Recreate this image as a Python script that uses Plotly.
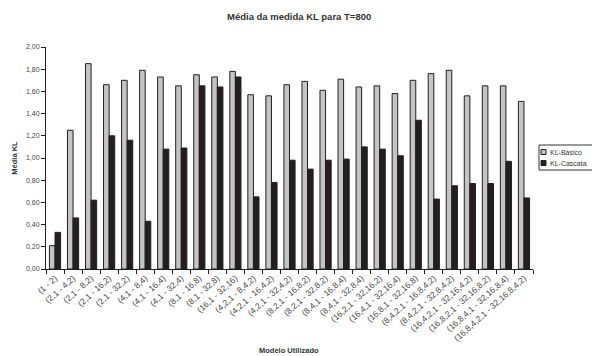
import plotly.graph_objects as go

categories = ["(1 - 2)", "(2,1 - 4,2)", "(2,1 - 8,2)", "(2,1 - 16,2)", "(2,1 - 32,2)",
              "(4,1 - 8,4)", "(4,1 - 16,4)", "(4,1 - 32,4)", "(8,1 - 16,8)", "(8,1 - 32,8)",
              "(16,1 - 32,16)", "(4,2,1 - 8,4,2)", "(4,2,1 - 16,4,2)", "(4,2,1 - 32,4,2)",
              "(8,2,1 - 16,8,2)", "(8,2,1 - 32,8,2)", "(8,4,1 - 16,8,4)", "(8,4,1 - 32,8,4)",
              "(16,2,1 - 32,16,2)", "(16,4,1 - 32,16,4)", "(16,8,1 - 32,16,8)",
              "(8,4,2,1 - 16,8,4,2)", "(8,4,2,1 - 32,8,4,2)", "(16,4,2,1 - 32,16,4,2)",
              "(16,8,2,1 - 32,16,8,2)", "(16,8,4,1 - 32,16,8,4)", "(16,8,4,2,1 - 32,16,8,4,2)"]
kl_basico = [0.21, 1.25, 1.85, 1.66, 1.70, 1.79, 1.73, 1.65, 1.75, 1.73, 1.78, 1.57, 1.56, 1.66,
             1.69, 1.61, 1.71, 1.64, 1.65, 1.58, 1.70, 1.76, 1.79, 1.56, 1.65, 1.65, 1.51]
kl_cascata = [0.33, 0.46, 0.62, 1.20, 1.16, 0.43, 1.08, 1.09, 1.65, 1.64, 1.73, 0.65, 0.78, 0.98,
              0.90, 0.98, 0.99, 1.10, 1.08, 1.02, 1.34, 0.63, 0.75, 0.77, 0.77, 0.97, 0.64]
series_names = ["KL-Básico", "KL-Cascata"]
y_ticks = [0, 0.2, 0.4, 0.6, 0.8, 1.0, 1.2, 1.4, 1.6, 1.8, 2.0]

GRAY = "#c4c4c4"
DARK = "#231f20"
colors = [GRAY, DARK]

W, H = 592, 356
L, R, T, B = 46, 59, 47, 87
PW, PH = W - L - R, H - T - B


def px(x):
    return (x - L) / PW


def py(y):
    return (H - B - y) / PH


fig = go.Figure()
for name, vals, col in zip(series_names, [kl_basico, kl_cascata], colors):
    fig.add_trace(go.Bar(x=categories, y=vals, name=name,
                         marker=dict(color=col, line=dict(color=DARK, width=1))))

font = "Liberation Sans, Arial, sans-serif"

shapes = [dict(type="rect", xref="paper", yref="paper",
               x0=px(539), x1=px(596), y0=py(145), y1=py(170),
               line=dict(color="#333333", width=1), fillcolor="white")]
annotations = [
    dict(text="<b>Média da medida KL para T=800</b>", xref="paper", yref="paper",
         x=px(299), y=py(16), xanchor="center", yanchor="middle", showarrow=False,
         font=dict(size=9.5, color="#333333")),
    dict(text="<b>Modelo Utilizado</b>", xref="paper", yref="paper",
         x=px(289), y=py(350), xanchor="center", yanchor="middle", showarrow=False,
         font=dict(size=7.5, color="#333333")),
]
for i, (name, col) in enumerate(zip(series_names, colors)):
    cy = 152 + i * 11
    shapes.append(dict(type="rect", xref="paper", yref="paper",
                       x0=px(541), x1=px(546), y0=py(cy - 2.5), y1=py(cy + 2.5),
                       line=dict(color=DARK, width=1), fillcolor=col))
    annotations.append(dict(text=name, xref="paper", yref="paper", x=px(548), y=py(cy),
                            xanchor="left", yanchor="middle", showarrow=False,
                            font=dict(size=7, color="#333333")))

fig.update_layout(
    width=W, height=H,
    margin=dict(l=L, r=R, t=T, b=B),
    paper_bgcolor="white", plot_bgcolor="white",
    separators=",.",
    barmode="group", bargap=0.38, bargroupgap=0.0,
    font=dict(family=font, size=7, color="#333333"),
    showlegend=False,
    shapes=shapes,
    annotations=annotations,
    xaxis=dict(showline=True, linecolor=DARK, linewidth=1, ticks="outside",
               tickson="boundaries", ticklen=4, tickcolor=DARK, tickangle=-42,
               tickfont=dict(size=8.5, color="#444444"), showgrid=False, automargin=False),
    yaxis=dict(range=[0, 2.0], tickvals=y_ticks, tickformat=".2f", showline=True,
               linecolor=DARK, linewidth=1, ticks="outside", ticklen=4,
               tickcolor=DARK, showgrid=False, zeroline=False, automargin=False,
               tickfont=dict(size=7, color="#444444"),
               title=dict(text="<b>Média KL</b>", standoff=7, font=dict(size=7.5))),
)
fig.write_html("out.html", config={"displayModeBar": False},
               post_script="document.body.style.margin='0';document.body.style.overflow='hidden';")
